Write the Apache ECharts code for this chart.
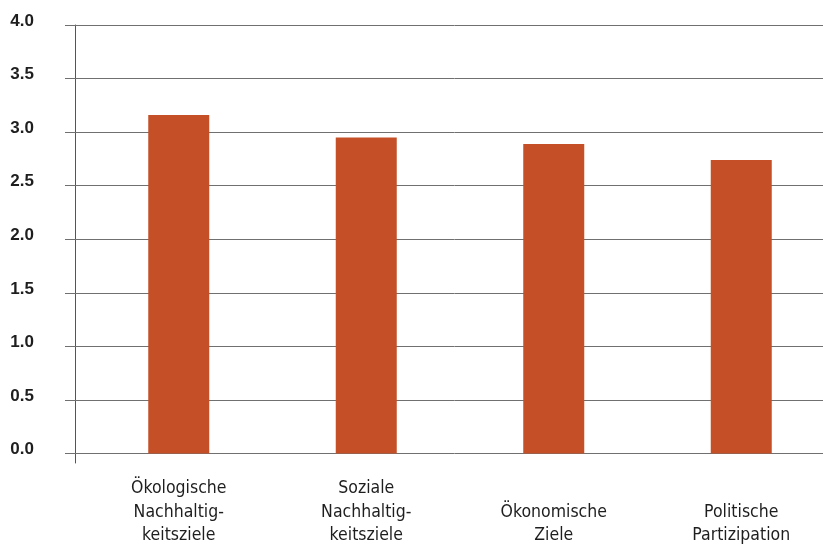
<!DOCTYPE html>
<html>
<head>
<meta charset="utf-8">
<title>Nachhaltigkeitsziele</title>
<script src="https://cdn.jsdelivr.net/npm/echarts@6/dist/echarts.min.js"></script>
<style>
  html, body { margin: 0; padding: 0; background: #ffffff; }
  #chart { width: 823px; height: 544px; }
</style>
</head>
<body>
<div id="chart"></div>
<script>
// Categories (line breaks as set in the axis labels)
const categories = [
  'Ökologische\nNachhaltig-\nkeitsziele',
  'Soziale\nNachhaltig-\nkeitsziele',
  'Ökonomische\nZiele',
  'Politische\nPartizipation'
];

// Mean scores per category
const scores = [3.16, 2.95, 2.89, 2.74];

// Value axis range and step
const yMin = 0;
const yMax = 4;
const yStep = 0.5;

const BAR_COLOR = '#c55027';
const GRID_COLOR = '#707070';
const AXIS_COLOR = '#555555';
const TEXT_COLOR = '#1e1e1e';

const chart = echarts.init(document.getElementById('chart'), null, { renderer: 'canvas' });

chart.setOption({
  backgroundColor: '#ffffff',
  animation: false,
  grid: [
    // plotting area for the bars; it runs past the right edge of the page
    { left: 85, width: 750, top: 25, bottom: 90.5, containLabel: false, outerBoundsMode: 'none' },
    // carries only the vertical axis line, which runs a little below zero
    { left: 75.5, width: 10, top: 25, bottom: 81, containLabel: false, outerBoundsMode: 'none' }
  ],
  xAxis: [
    {
      type: 'category',
      gridIndex: 0,
      data: categories,
      axisLine: { show: false },
      axisTick: { show: false },
      axisLabel: {
        interval: 0,
        margin: 94,
        verticalAlign: 'bottom',
        align: 'center',
        fontFamily: '"DejaVu Sans Condensed", "DejaVu Sans", sans-serif',
        fontSize: 17.5,
        lineHeight: 23.5,
        color: TEXT_COLOR
      }
    },
    { type: 'value', gridIndex: 1, show: false }
  ],
  yAxis: [
    {
      type: 'value',
      gridIndex: 0,
      min: yMin,
      max: yMax,
      interval: yStep,
      axisLine: { show: false },
      axisTick: { show: true, length: 20, lineStyle: { color: GRID_COLOR, width: 1 } },
      splitLine: { show: true, lineStyle: { color: GRID_COLOR, width: 1 } },
      axisLabel: {
        margin: 51,
        align: 'right',
        verticalAlign: 'bottom',
        lineHeight: 8,
        fontFamily: '"Liberation Sans", Arial, sans-serif',
        fontWeight: 'bold',
        fontSize: 17,
        color: TEXT_COLOR,
        formatter: v => v.toFixed(1)
      }
    },
    {
      type: 'value',
      gridIndex: 1,
      min: 0,
      max: 1,
      axisLine: { show: true, lineStyle: { color: AXIS_COLOR, width: 1 } },
      axisTick: { show: false },
      axisLabel: { show: false },
      splitLine: { show: false }
    }
  ],
  series: [
    {
      type: 'bar',
      xAxisIndex: 0,
      yAxisIndex: 0,
      data: scores,
      barWidth: 61,
      itemStyle: { color: BAR_COLOR },
      silent: true
    }
  ]
});
</script>
</body>
</html>
